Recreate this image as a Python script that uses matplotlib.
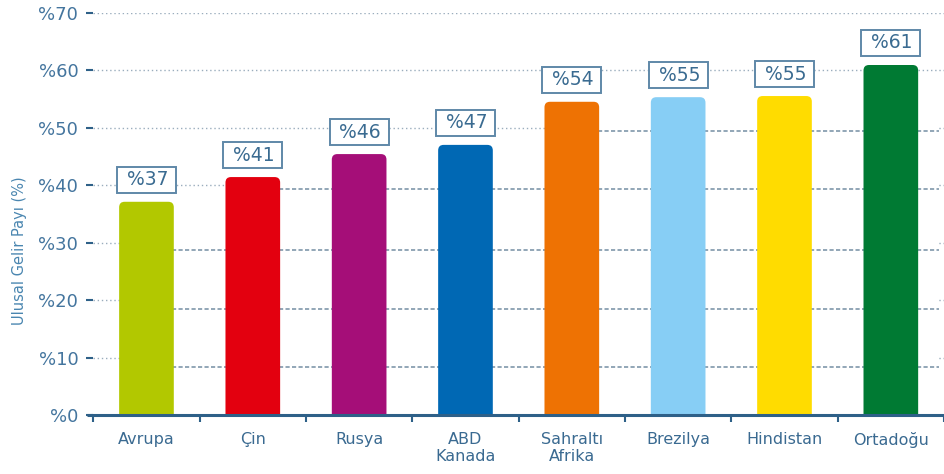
import matplotlib
matplotlib.use("Agg")
import matplotlib.pyplot as plt
from matplotlib.patches import FancyBboxPatch

regions = ["Avrupa", "Çin", "Rusya", "ABD\nKanada", "Sahraltı\nAfrika",
           "Brezilya", "Hindistan", "Ortadoğu"]
shares = [37.1, 41.4, 45.4, 47.0, 54.5, 55.3, 55.5, 60.9]
share_labels = ["%37", "%41", "%46", "%47", "%54", "%55", "%55", "%61"]
bar_colors = ["#b2c800", "#e3000f", "#a50e78", "#0068b4",
              "#ee7203", "#87cef5", "#ffdc00", "#007a33"]
y_ticks = [0, 10, 20, 30, 40, 50, 60, 70]
y_tick_labels = ["%0", "%10", "%20", "%30", "%40", "%50", "%60", "%70"]
# back wall grid of the original chart sits a bit lower than the ticks
wall_grid = [8.4, 18.5, 28.7, 39.3, 49.4]

txt = "#3a6a91"
axis_col = "#2e6088"

fig = plt.figure(figsize=(9.44, 4.74), dpi=100)
ax = fig.add_axes([93.3 / 944, 59 / 474, 850.7 / 944, 402.3 / 474])

x = list(range(len(regions)))
ax.set_xlim(-0.5, -0.5 + 850.7 / 107)
ax.set_ylim(0, 70)

# dotted grid at the ticks
ax.set_axisbelow(True)
ax.yaxis.grid(True, color="#9aadbd", linewidth=1.0, linestyle=(0, (1, 2)))

# white "depth" boxes between bars hide the dotted grid, dashed wall grid on them
for i in range(len(x)):
    if i + 1 < len(x):
        x0, x1 = x[i], x[i + 1]
        h = min(shares[i], shares[i + 1])
    else:
        x0, x1 = x[i], ax.get_xlim()[1]
        h = min(shares[i], shares[i - 1])
    ax.fill_between([x0, x1], 0, h, color="white", zorder=1, linewidth=0)
    lv = [g for g in wall_grid if g < h]
    ax.hlines(lv, x0, x1, colors="#7f97aa", linewidth=1.2,
              linestyles=(0, (2.5, 1.4)), zorder=1.2)

bars = ax.bar(x, shares, width=0.514, color=bar_colors, zorder=2)

# rounded tops
fig.canvas.draw()
p0 = ax.transData.transform((0, 0))
p1 = ax.transData.transform((1, 1))
px_x = 1 / (p1[0] - p0[0])
px_y = 1 / (p1[1] - p0[1])
r = 5.5 * px_x
for b, c in zip(bars, bar_colors):
    bx, bw, bh = b.get_x(), b.get_width(), b.get_height()
    b.set_visible(False)
    patch = FancyBboxPatch((bx, -3), bw, bh + 3,
                           boxstyle="round,pad=0,rounding_size=%f" % r,
                           mutation_aspect=px_y / px_x,
                           facecolor=c, edgecolor="none", zorder=2)
    ax.add_patch(patch)

for xi, v, lab in zip(x, shares, share_labels):
    ax.annotate(" " + lab + "\u2009", xy=(xi, v), xytext=(0, 9),
                textcoords="offset points", ha="center", va="bottom",
                fontsize=13.5, color="#3a6b91", zorder=3,
                bbox=dict(boxstyle="square,pad=0.2", facecolor="white",
                          edgecolor="#5f88a8", linewidth=1.4))

for s in ["top", "right", "left"]:
    ax.spines[s].set_visible(False)
ax.spines["bottom"].set_color(axis_col)
ax.spines["bottom"].set_linewidth(2.2)
ax.spines["bottom"].set_zorder(4)
ax.plot([-6.5 / 850.7, 0], [0, 0], transform=ax.transAxes, color=axis_col,
        linewidth=2.2, clip_on=False, solid_capstyle="butt")

ax.set_yticks(y_ticks, y_tick_labels)
ax.tick_params(axis="y", length=5, width=1.5, color=axis_col, pad=5.8,
               labelsize=13, labelcolor="#44759e")
ax.set_xticks(x, regions)
ax.set_xticks([xi - 0.5 for xi in x] + [x[-1] + 0.5], minor=True)
ax.tick_params(axis="x", which="major", length=0, pad=12,
               labelsize=11.5, labelcolor=txt)
ax.tick_params(axis="x", which="minor", length=5, width=1.5, color=axis_col,
               direction="out")

fig.text(20 / 944, 1 - 251 / 474, "Ulusal Gelir Payı (%)", rotation=90,
         ha="center", va="center", fontsize=10.5, color="#4a86b0")

fig.savefig("out.png", dpi=100)
